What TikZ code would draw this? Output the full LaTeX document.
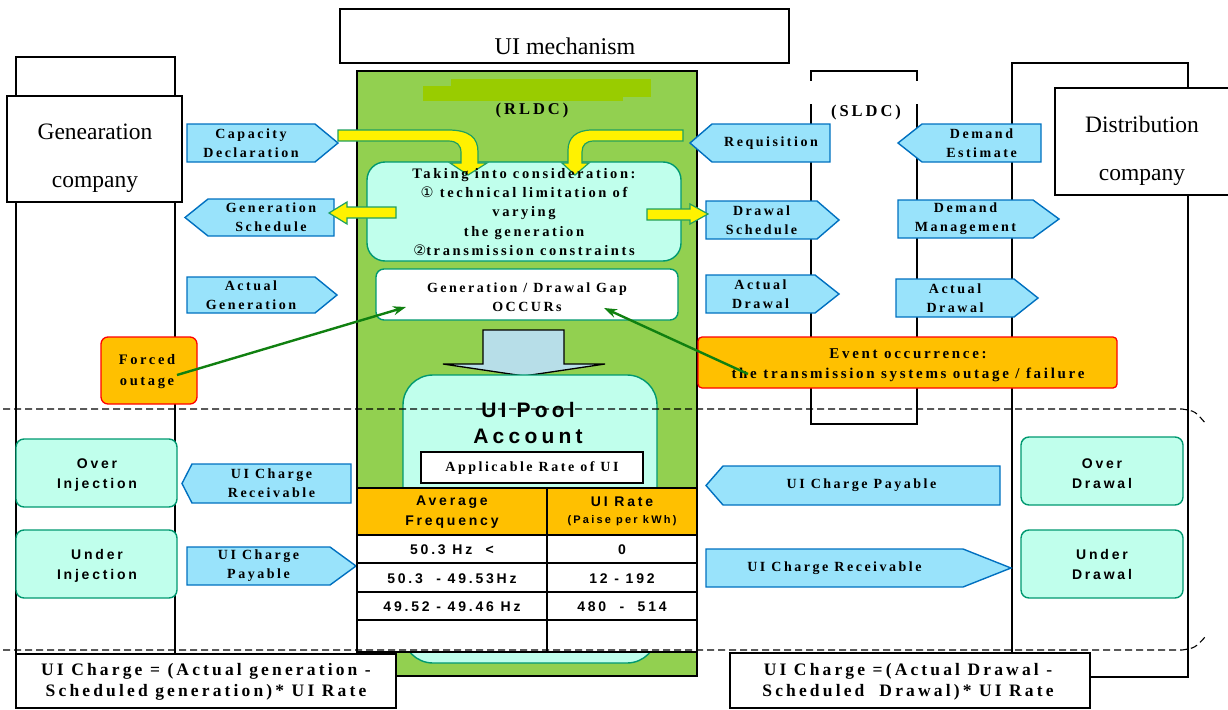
\documentclass[tikz,border=0pt]{standalone}
\usepackage{fontspec}
\setmainfont{Liberation Serif}
\newfontfamily\lsserif[LetterSpace=18]{Liberation Serif}
\newfontfamily\lssans[LetterSpace=20]{Liberation Sans}
\newfontfamily\symfont{DejaVu Sans}
\usetikzlibrary{arrows.meta}
\definecolor{rgreen}{HTML}{92D050}
\definecolor{olivebar}{HTML}{99CC00}
\definecolor{bfill}{HTML}{99E3FB}
\definecolor{bline}{HTML}{0070C0}
\definecolor{cfill}{HTML}{C0FFEC}
\definecolor{cline}{HTML}{009970}
\definecolor{ofill}{HTML}{FFC000}
\definecolor{yline}{HTML}{20A060}
\definecolor{garrow}{HTML}{108010}
\definecolor{bigfill}{HTML}{B7DEE8}
\tikzset{
 lane/.style={draw=black, line width=1.5pt},
 barrow/.style={draw=bline, fill=bfill, line width=1.4pt},
 btext/.style={font=\lsserif\bfseries\fontsize{14}{19}\selectfont, align=center, inner sep=0pt},
 stext/.style={font=\lssans\bfseries\fontsize{14}{20}\selectfont, align=center, inner sep=0pt},
 cbox/.style={draw=cline, fill=cfill, line width=1.4pt},
 yarrow/.style={draw=yline, fill=yellow, line width=1.2pt},
 garr/.style={draw=garrow, line width=2.4pt, -{Stealth[length=13pt,width=9pt]}},
 obox/.style={draw=red, fill=ofill, line width=1.3pt, rounded corners=7pt},
 plain/.style={draw=black, fill=white, line width=1.4pt},
 bigtext/.style={font=\fontsize{23.5}{48}\selectfont, align=center, inner sep=0pt},
 tline/.style={draw=black, line width=1.5pt},
 dline/.style={draw=black, line width=1.1pt, dash pattern=on 7pt off 4pt},
}
% right-pointing label arrow: name, x1, y1, x2, y2, tip, text
\newcommand\rsig[7]{%
  \draw[barrow] (#2,#3) -- ({#4-#6},#3) -- (#4,{(#3+#5)/2}) -- ({#4-#6},#5) -- (#2,#5) -- cycle;
  \node[btext] (#1) at ({(#2+#4-#6)/2},{(#3+#5)/2}) {#7};}
% left-pointing label arrow
\newcommand\lsig[7]{%
  \draw[barrow] (#4,#3) -- ({#2+#6},#3) -- (#2,{(#3+#5)/2}) -- ({#2+#6},#5) -- (#4,#5) -- cycle;
  \node[btext] (#1) at ({(#2+#6+#4)/2},{(#3+#5)/2}) {#7};}
\begin{document}
\begin{tikzpicture}[x=1pt,y=-1pt]
\useasboundingbox (0,0) rectangle (1228,709);
% lanes
\draw[lane] (16,57) rectangle (175,654);
\draw[lane] (811,71) rectangle (917,424);
\fill[white] (804,81) rectangle (924,104);
\draw[lane] (1012,63) rectangle (1188,677);
% UI mechanism
\draw[plain] (340,9) rectangle (789,63);
\node[font=\fontsize{24}{28}\selectfont] (uim) at (565,46) {UI mechanism};
% RLDC
\draw[lane, fill=rgreen] (357,71) rectangle (697,676);
\fill[olivebar] (451,79) rectangle (651,97);
\fill[olivebar] (423,86) rectangle (623,101);
\node[btext, font=\lsserif\bfseries\fontsize{16.5}{19}\selectfont] (rldc) at (532,111) {(RLDC)};
\node[btext, font=\lsserif\bfseries\fontsize{16.5}{19}\selectfont] (sldc) at (866,113) {(SLDC)};
% company label boxes
\draw[plain] (7,96) rectangle (182,202);
\node[bigtext] (gen) at (95,158) {Genearation\\company};
\draw[plain] (1055,88) rectangle (1232,195);
\node[bigtext] (dist) at (1142,151) {Distribution\\company};
% blue label arrows
\rsig{cap}{187}{124}{338}{162}{23}{Capacity\\Declaration}
\lsig{gsch}{185}{199}{334}{236}{23}{Generation\\Schedule}
\rsig{agen}{187}{277}{337}{313}{22}{Actual\\Generation}
\lsig{req}{690}{124}{830}{162}{22}{Requisition}
\rsig{dsch}{706}{201}{839}{239}{22}{Drawal\\Schedule}
\rsig{adraw}{706}{275}{839}{313}{24}{Actual\\Drawal}
\lsig{dest}{898}{124}{1041}{162}{24}{Demand\\Estimate}
\rsig{dman}{898}{200}{1059}{238}{26}{Demand\\Management}
\rsig{adraw2}{896}{279}{1038}{317}{24}{Actual\\Drawal}
\lsig{uircv}{182}{464}{351}{503}{10}{UI Charge\\Receivable}
\rsig{uipay}{187}{547}{356}{585}{26}{UI Charge\\Payable}
\lsig{uipay2}{706}{466}{1000}{505}{17}{UI Charge Payable}
\rsig{uircv2}{706}{549}{1011}{587}{48}{UI Charge Receivable}
% consideration box
\draw[cbox, rounded corners=18pt] (367,162) rectangle (681,261);
% yellow arrows
\draw[yarrow] (338,130) -- (448,130) .. controls (470,130) and (478,138) .. (478,152) -- (478,163) -- (487,163) -- (468,175) -- (450,163) -- (461,163) -- (461,153) .. controls (461,145) and (457,141) .. (448,141) -- (338,141) -- cycle;
\draw[yarrow] (683,130) -- (592,130) .. controls (576,130) and (568,138) .. (568,150) -- (568,163) -- (562,163) -- (575,175) -- (589,163) -- (582,163) -- (582,152) .. controls (582,145) and (586,141) .. (594,141) -- (683,141) -- cycle;
\draw[yarrow] (396,207) -- (347,207) -- (347,202) -- (329,213) -- (347,224) -- (347,218) -- (396,218) -- cycle;
\draw[yarrow] (647,209) -- (690,209) -- (690,204) -- (708,214) -- (690,224) -- (690,220) -- (647,220) -- cycle;
\node[btext, font=\lsserif\bfseries\fontsize{14.5}{19.3}\selectfont] (consid) at (524,212) {Taking into consideration:\\{\symfont\mdseries ①} technical limitation of\\varying\\the generation\\{\symfont\mdseries ②}transmission constraints};
% gap box
\draw[draw=cline, fill=white, line width=1.4pt, rounded corners=8pt] (376,269) rectangle (678,320);
\node[btext] (gap) at (527,297) {Generation / Drawal Gap\\OCCURs};
% big arrow
\draw[draw=black, fill=bigfill, line width=1.3pt] (483,330) -- (564,330) -- (564,364) -- (605,364) -- (524,376) -- (443,364) -- (483,364) -- cycle;
% UI pool box
\draw[cbox, rounded corners=30pt] (403,375) rectangle (657,663);
\node[font=\lssans\bfseries\fontsize{21}{26}\selectfont, align=center, inner sep=0pt] (pool) at (528,423) {UI Pool\\Account};
\draw[plain] (421,452) rectangle (643,483);
\node[btext] (rate) at (532,468) {Applicable Rate of UI};
% table
\fill[ofill] (357,488) rectangle (697,535);
\fill[white] (357,535) rectangle (697,652);
\draw[tline] (357,488) -- (697,488);
\draw[tline] (357,535) -- (697,535);
\draw[tline] (357,563) -- (697,563);
\draw[tline] (357,592) -- (697,592);
\draw[tline] (357,620) -- (697,620);
\draw[tline] (357,652) -- (697,652);
\draw[tline] (547,488) -- (547,652);
\draw[tline] (357,488) -- (357,652);
\draw[tline] (697,488) -- (697,652);
\node[stext] (h1) at (452,512) {Average\\Frequency};
\node[stext, font=\lssans\bfseries\fontsize{14}{17}\selectfont] (h2) at (622,511) {UI Rate\\{\fontsize{11}{13}\selectfont(Paise per kWh)}};
\node[stext] (r1a) at (452,550) {50.3 Hz \ <};
\node[stext] (r1b) at (622,550) {0};
\node[stext] (r2a) at (452,579) {50.3 \ - 49.53Hz};
\node[stext] (r2b) at (622,579) {12 - 192};
\node[stext] (r3a) at (452,607) {49.52 - 49.46 Hz};
\node[stext] (r3b) at (622,607) {480 \ - \ 514};
% event boxes
\draw[obox] (101,337) rectangle (197,404);
\node[btext, font=\lsserif\bfseries\fontsize{14.5}{21}\selectfont] (forced) at (147,372) {Forced\\outage};
\draw[obox, rounded corners=4pt] (698,337) rectangle (1117,388);
\node[btext, font=\lsserif\bfseries\fontsize{15}{20}\selectfont] (event) at (908,365) {Event occurrence:\\the transmission systems outage / failure};
\coordinate (fo) at (177,375);
\coordinate (gapl) at (406,307);
\coordinate (ev) at (748,374);
\coordinate (gapr) at (604,308);
\draw[garr] (fo) -- (gapl);
\draw[garr] (ev) -- (gapr);
% over / under boxes
\draw[cbox, rounded corners=8pt] (16,439) rectangle (177,507);
\node[stext] (oi) at (97,475) {Over\\Injection};
\draw[cbox, rounded corners=8pt] (16,530) rectangle (177,598);
\node[stext] (ui) at (97,566) {Under\\Injection};
\draw[cbox, rounded corners=8pt] (1021,437) rectangle (1183,505);
\node[stext] (od) at (1102,474) {Over\\Drawal};
\draw[cbox, rounded corners=8pt] (1021,530) rectangle (1183,598);
\node[stext] (ud) at (1102,564) {Under\\Drawal};
% formula boxes
\draw[plain] (16,654) rectangle (396,708);
\node[btext, font=\lsserif\bfseries\fontsize{17.5}{21}\selectfont] (f1) at (206,682) {UI Charge = (Actual generation -\\Scheduled generation)* UI Rate};
\draw[plain] (730,653) rectangle (1090,708);
\node[btext, font=\lsserif\bfseries\fontsize{17.5}{21}\selectfont] (f2) at (908,682) {UI Charge =(Actual Drawal -\\Scheduled \ Drawal)* UI Rate};
% dashed lines
\draw[dline] (3,409) -- (1182,409) .. controls (1195,411) .. (1206,424);
\draw[dline] (3,650) -- (1182,650) .. controls (1195,648) .. (1206,636);
\end{tikzpicture}
\end{document}
